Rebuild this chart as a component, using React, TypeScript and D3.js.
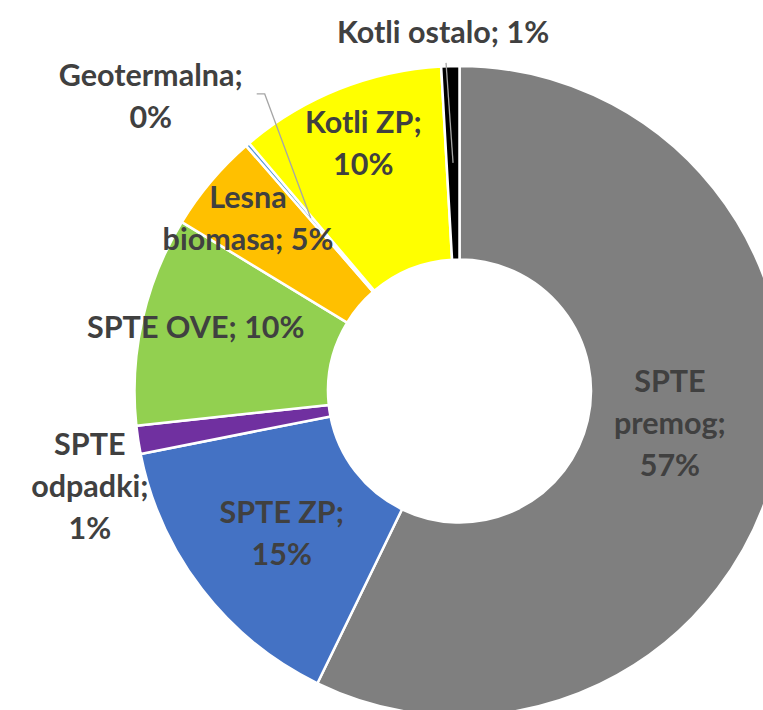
import React from "react";
import * as d3 from "d3";

const categories = [
  "SPTE premog",
  "SPTE ZP",
  "SPTE odpadki",
  "SPTE OVE",
  "Lesna biomasa",
  "Geotermalna",
  "Kotli ZP",
  "Kotli ostalo",
];
const values = [57.2, 14.7, 1.4, 10.4, 4.9, 0.2, 10.3, 0.9];
const colors = ["#7F7F7F", "#4472C4", "#7030A0", "#92D050", "#FFC000", "#5B9BD5", "#FFFF00", "#000000"];

// label layout: line templates ({p} = percent), offset from arc centroid, optional leader
const labelLines = [
  ["SPTE", "premog;", "{p}%"],
  ["SPTE ZP;", "{p}%"],
  ["SPTE", "odpadki;", "{p}%"],
  ["SPTE OVE; {p}%"],
  ["Lesna", "biomasa; {p}%"],
  ["Geotermalna;", "{p}%"],
  ["Kotli ZP;", "{p}%"],
  ["Kotli ostalo; {p}%"],
];
const labelOffsets: [number, number][] = [
  [-12, -50],
  [3, -7],
  [-144, 30],
  [-41, -3],
  [-37, -36],
  [-160, -132],
  [-11.5, -46],
  [-10, -120],
];
// leader points relative to label anchor (null = none)
const leaderPts: ([number, number][] | null)[] = [
  null, null, null, null, null,
  [[114, 8], [106, 8]],
  null,
  [[3, 20]],
];

const W = 763;
const H = 710;
const cx = 459.5;
const cy = 391;
const outerR = 325;
const innerR = 131.5;
const lineH = 42;

export default function App() {
  const total = d3.sum(values);
  const pie = d3
    .pie<number>()
    .sort(null)
    .value((d) => d)
    .startAngle(0)
    .endAngle(2 * Math.PI);
  const arcs = pie(values);
  const arcGen = d3.arc<d3.PieArcDatum<number>>().innerRadius(innerR).outerRadius(outerR);
  const fmt = (v: number) => String(Math.round((v / total) * 100));

  return (
    <svg
      width={W}
      height={H}
      style={{ position: "absolute", left: 0, top: 0, background: "#fff" }}
      fontFamily="Lato, 'Open Sans', sans-serif"
    >
      <g transform={`translate(${cx},${cy})`}>
        {arcs.map((a, i) => (
          <path key={categories[i]} d={arcGen(a) || ""} fill={colors[i]} stroke="#fff" strokeWidth={2.5} strokeLinejoin="round" />
        ))}
      </g>
      {arcs.map((a, i) => {
        const [mx, my] = arcGen.centroid(a);
        const ax = cx + mx + labelOffsets[i][0];
        const ay = cy + my + labelOffsets[i][1];
        const lp = leaderPts[i];
        return (
          <g key={"lbl" + i}>
            {lp && (
              <polyline
                points={[[cx + mx, cy + my], ...lp.map(([dx, dy]) => [ax + dx, ay + dy])]
                  .map((p) => p.join(","))
                  .join(" ")}
                fill="none"
                stroke="#A6A6A6"
                strokeWidth={1.3}
              />
            )}
            <text x={ax} y={ay} textAnchor="middle" fontSize={30.5} fontWeight={700} fill="#404040">
              {labelLines[i].map((ln, j) => (
                <tspan key={j} x={ax} y={ay + j * lineH}>
                  {ln.replace("{p}", fmt(values[i]))}
                </tspan>
              ))}
            </text>
          </g>
        );
      })}
    </svg>
  );
}
